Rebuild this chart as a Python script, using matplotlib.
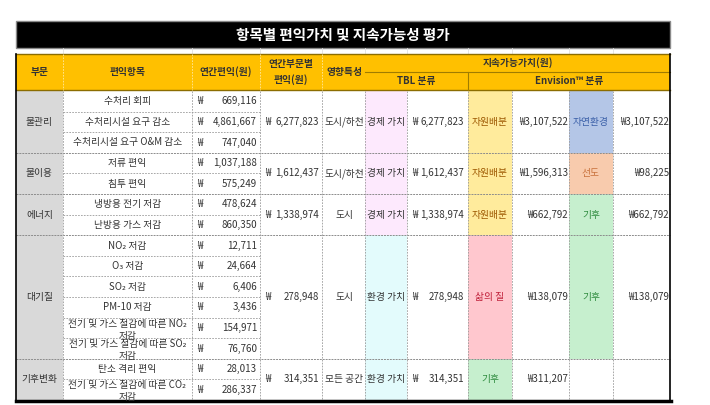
import matplotlib.pyplot as plt
from matplotlib.patches import Rectangle

plt.rcParams['font.family'] = ['Noto Sans CJK KR', 'DejaVu Sans']

title = '항목별 편익가치 및 지속가능성 평가'
sectors = ['물관리', '물이용', '에너지', '대기질', '기후변화']
sector_rows = [3, 2, 2, 6, 2]
items = ['수처리 회피', '수처리시설 요구 감소', '수처리시설 요구 O&M 감소',
         '저류 편익', '침투 편익',
         '냉방용 전기 저감', '난방용 가스 저감',
         'NO₂ 저감', 'O₃ 저감', 'SO₂ 저감', 'PM-10 저감',
         '전기 및 가스 절감에 따른 NO₂\n저감', '전기 및 가스 절감에 따른 SO₂\n저감',
         '탄소 격리 편익', '전기 및 가스 절감에 따른 CO₂\n저감']
item_values = [669116, 4861667, 747040, 1037188, 575249, 478624, 860350,
               12711, 24664, 6406, 3436, 154971, 76760, 28013, 286337]
sector_totals = [6277823, 1612437, 1338974, 278948, 314351]
impact = ['도시/하천', '도시/하천', '도시', '도시', '모든 공간']
tbl_class = ['경제 가치', '경제 가치', '경제 가치', '환경 가치', '환경 가치']
tbl_values = [6277823, 1612437, 1338974, 278948, 314351]
env_class1 = ['자원배분', '자원배분', '자원배분', '삶의 질', '기후']
env_value1 = [3107522, 1596313, 662792, 138079, 311207]
env_class2 = ['자연환경', '선도', '기후', '기후', '']
env_value2 = [3107522, 98225, 662792, 138079, None]

# fill / text colours per class
fills = {'경제 가치': '#FDE9FD', '환경 가치': '#E3FBFC', '자원배분': '#FFEB9C',
         '삶의 질': '#FFC7CE', '기후': '#C6EFCE', '자연환경': '#B4C6E7',
         '선도': '#F8CBAD', '': 'white'}
tcolors = {'경제 가치': '#333333', '환경 가치': '#333333', '자원배분': '#9C5700',
           '삶의 질': '#C0203A', '기후': '#2E8B3E', '자연환경': '#3A5FA8',
           '선도': '#C8703A', '': '#333333'}

W, H = 710, 405
fig = plt.figure(figsize=(W / 100, H / 100), dpi=100)
ax = fig.add_axes([0, 0, 1, 1])
ax.set_xlim(0, W)
ax.set_ylim(H, 0)
ax.axis('off')

cx = [16, 63, 192, 260, 322, 365, 407, 468, 512, 569, 613, 670]
top, bottom = 91, 400
rh = (bottom - top) / len(items)
fs = 7
tc = '#333333'
grid = dict(color='#9A9A9A', lw=0.6, ls=(0, (2, 1.5)))

# title bar
ax.add_patch(Rectangle((cx[0], 21), cx[-1] - cx[0], 27, fc='black', ec='#8A8A8A', lw=1))
ax.text((cx[0] + cx[-1]) / 2, 35, title, color='white', fontsize=10.5,
        fontweight='bold', ha='center', va='center')
for x in cx[1:-1]:
    ax.plot([x, x], [48, 54], color='#E0E0E0', lw=0.6)

# header
hy0, hy1, hy2 = 54, 72, 90
ax.add_patch(Rectangle((cx[0], hy0), cx[-1] - cx[0], hy2 - hy0, fc='#FFC000', ec='none'))
ax.plot([cx[0], cx[-1]], [hy0, hy0], color='#8C6D00', lw=1)
ax.plot([cx[0], cx[-1]], [hy2, hy2], color='#8C6D00', lw=1)
ax.plot([cx[5], cx[-1]], [hy1, hy1], color='#A07C00', lw=0.8)
ax.plot([cx[7], cx[7]], [hy1, hy2], color='#A07C00', lw=0.8)
for x in cx[1:5]:
    ax.plot([x, x], [hy0, hy2], color='#FFE9A0', lw=0.6, ls=(0, (2, 1.5)))
hdr = dict(fontsize=fs, fontweight='bold', color=tc, ha='center', va='center')
ax.text((cx[0] + cx[1]) / 2, 72, '부문', **hdr)
ax.text((cx[1] + cx[2]) / 2, 72, '편익항목', **hdr)
ax.text((cx[2] + cx[3]) / 2, 72, '연간편익(원)', **hdr)
ax.text((cx[3] + cx[4]) / 2, 72, '연간부문별\n편익(원)', linespacing=1.5, **hdr)
ax.text((cx[4] + cx[5]) / 2 + 1, 72, '영향특성', **hdr)
ax.text((cx[5] + cx[-1]) / 2, 63, '지속가능가치(원)', **hdr)
ax.text((cx[5] + cx[7]) / 2, 81, 'TBL 분류', **hdr)
ax.text((cx[7] + cx[-1]) / 2, 81, 'Envision™ 분류', **hdr)

# body
r = 0
for g, n in enumerate(sector_rows):
    y0 = top + r * rh
    y1 = y0 + n * rh
    ym = (y0 + y1) / 2
    ax.add_patch(Rectangle((cx[0], y0), cx[1] - cx[0], n * rh, fc='#D9D9D9', ec='none'))
    ax.add_patch(Rectangle((cx[5], y0), cx[6] - cx[5], n * rh, fc=fills[tbl_class[g]], ec='none'))
    ax.add_patch(Rectangle((cx[7], y0), cx[8] - cx[7], n * rh, fc=fills[env_class1[g]], ec='none'))
    ax.add_patch(Rectangle((cx[9], y0), cx[10] - cx[9], n * rh, fc=fills[env_class2[g]], ec='none'))
    ax.text((cx[0] + cx[1]) / 2, ym, sectors[g], fontsize=fs, color=tc, ha='center', va='center')
    ax.text(cx[3] + 5, ym, '₩', fontsize=fs, color=tc, ha='left', va='center')
    ax.text(cx[4] - 3, ym, f'{sector_totals[g]:,}', fontsize=fs, color=tc, ha='right', va='center')
    ax.text((cx[4] + cx[5]) / 2 + 1, ym, impact[g], fontsize=fs, color=tc, ha='center', va='center')
    ax.text((cx[5] + cx[6]) / 2, ym, tbl_class[g], fontsize=fs, color=tcolors[tbl_class[g]],
            ha='center', va='center')
    ax.text(cx[6] + 5, ym, '₩', fontsize=fs, color=tc, ha='left', va='center')
    ax.text(cx[7] - 4, ym, f'{tbl_values[g]:,}', fontsize=fs, color=tc, ha='right', va='center')
    ax.text((cx[7] + cx[8]) / 2, ym, env_class1[g], fontsize=fs, color=tcolors[env_class1[g]],
            ha='center', va='center')
    ax.text(cx[9] - 1, ym, f'₩{env_value1[g]:,}', fontsize=fs, color=tc, ha='right', va='center')
    if env_class2[g]:
        ax.text((cx[9] + cx[10]) / 2, ym, env_class2[g], fontsize=fs,
                color=tcolors[env_class2[g]], ha='center', va='center')
    if env_value2[g] is not None:
        ax.text(cx[11] - 1, ym, f'₩{env_value2[g]:,}', fontsize=fs, color=tc, ha='right', va='center')
    for k in range(n):
        ry = top + (r + k) * rh
        cell = Rectangle((cx[1], ry), cx[2] - cx[1], rh, fc='none', ec='none')
        ax.add_patch(cell)
        if '\n' in items[r + k]:
            t = ax.text((cx[1] + cx[2]) / 2, ry + 1, items[r + k], fontsize=fs, color=tc,
                        ha='center', va='top', linespacing=1.25)
            t.set_clip_path(cell)
        else:
            ax.text((cx[1] + cx[2]) / 2, ry + rh / 2, items[r + k], fontsize=fs, color=tc,
                    ha='center', va='center')
        ax.text(cx[2] + 5, ry + rh / 2, '₩', fontsize=fs, color=tc, ha='left', va='center')
        ax.text(cx[3] - 3, ry + rh / 2, f'{item_values[r + k]:,}', fontsize=fs, color=tc,
                ha='right', va='center')
        if k > 0:
            ax.plot([cx[1], cx[3]], [ry, ry], **grid)
    if g > 0:
        ax.plot([cx[0], cx[-1]], [y0, y0], color='#8C8C8C', lw=0.7, ls=(0, (2, 1)))
    r += n

for x in cx[1:-1]:
    ax.plot([x, x], [top, bottom], **grid)

# outer border
ax.plot([cx[0], cx[0]], [hy0, bottom], color='black', lw=1.2)
ax.plot([cx[-1], cx[-1]], [hy0, bottom], color='black', lw=1.2)
ax.plot([cx[0] - 0.5, cx[-1] + 0.5], [bottom + 1, bottom + 1], color='black', lw=2.5)

fig.savefig('out.png', dpi=100)
